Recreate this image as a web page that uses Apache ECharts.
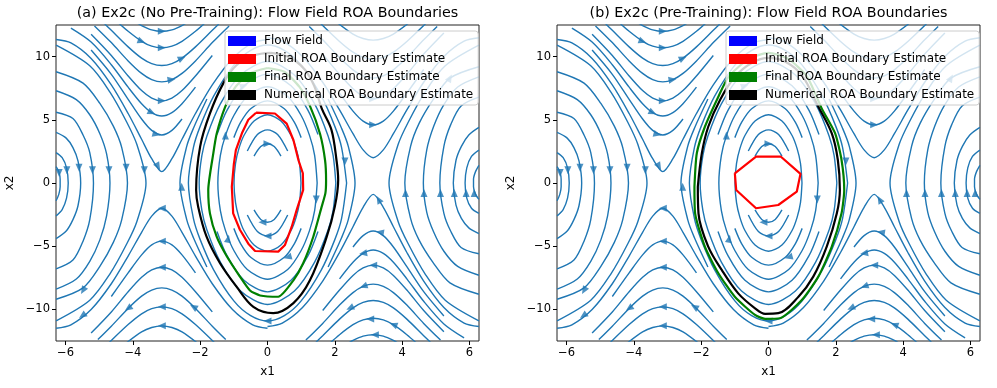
<!DOCTYPE html>
<html>
<head>
<meta charset="utf-8">
<script src="https://cdn.jsdelivr.net/npm/echarts@6/dist/echarts.min.js"></script>
<style>
  html, body { margin: 0; padding: 0; background: #fff; }
  #chart { width: 997px; height: 388px; }
</style>
</head>
<body>
<div id="chart"></div>
<script>
// ---- data ----
const panelTitles = [
  '(a) Ex2c (No Pre-Training): Flow Field ROA Boundaries',
  '(b) Ex2c (Pre-Training): Flow Field ROA Boundaries'
]
const xTicks = [-6, -4, -2, 0, 2, 4, 6]
const yTicks = [-10, -5, 0, 5, 10]
const legendNames = ['Flow Field', 'Initial ROA Boundary Estimate', 'Final ROA Boundary Estimate', 'Numerical ROA Boundary Estimate']
const legendColors = ['#0000ff', '#ff0000', '#008000', '#000000']

// closed orbits around (-2pi, 0), right halves
const libLeft = [
  [[-6.28, 1.3], [-6.2, 0.9], [-6.16, 0.3], [-6.16, -0.3], [-6.2, -0.9], [-6.28, -1.4]],
  [[-6.28, 2.4], [-6.1, 2.0], [-5.97, 1.2], [-5.92, 0], [-5.97, -1.2], [-6.1, -2.1], [-6.28, -2.6]],
  [[-6.28, 4.0], [-5.98, 3.55], [-5.78, 2.8], [-5.63, 1.75], [-5.55, 0], [-5.63, -1.8], [-5.78, -2.9], [-5.98, -3.8], [-6.28, -4.4]],
  [[-6.28, 5.6], [-5.78, 5.1], [-5.48, 3.8], [-5.28, 2.4], [-5.17, 0], [-5.28, -2.9], [-5.48, -4.6], [-5.78, -6.1], [-6.28, -6.8]],
  [[-6.28, 7.3], [-5.68, 6.6], [-5.28, 5.4], [-4.98, 3.9], [-4.78, 2.3], [-4.68, 0], [-4.78, -2.6], [-4.98, -4.5], [-5.28, -6.2], [-5.68, -7.6], [-6.28, -8.4]],
  [[-6.28, 8.8], [-5.48, 7.9], [-4.98, 6.3], [-4.58, 4.5], [-4.33, 2.8], [-4.16, 0], [-4.33, -2.9], [-4.58, -4.7], [-4.98, -6.6], [-5.48, -8.3], [-6.28, -9.2]],
  [[-6.28, 10.9], [-5.28, 9.27], [-4.68, 7.19], [-4.18, 4.81], [-3.88, 3.04], [-3.61, 0], [-3.88, -3.04], [-4.18, -4.81], [-4.68, -7.19], [-5.28, -9.27], [-6.28, -10.9]]
]

// closed orbits around (2pi, 0), left halves
const libRight = [
  [[6.28, -1.3], [6.18, -0.9], [6.12, -0.3], [6.12, 0.3], [6.18, 0.9], [6.28, 1.4]],
  [[6.28, -2.4], [6.06, -2.0], [5.92, -1.2], [5.87, 0], [5.92, 1.2], [6.06, 2.1], [6.28, 2.6]],
  [[6.28, -4.0], [5.98, -3.55], [5.76, -2.8], [5.6, -1.75], [5.52, 0], [5.6, 1.8], [5.76, 2.9], [5.98, 3.8], [6.28, 4.4]],
  [[6.28, -5.6], [5.75, -5.1], [5.44, -3.8], [5.24, -2.4], [5.12, 0], [5.24, 2.9], [5.44, 4.6], [5.75, 6.1], [6.28, 6.8]],
  [[6.28, -7.3], [5.65, -6.6], [5.24, -5.4], [4.94, -3.9], [4.73, -2.3], [4.63, 0], [4.73, 2.6], [4.94, 4.5], [5.24, 6.2], [5.65, 7.6], [6.28, 8.4]],
  [[6.28, -8.8], [5.42, -7.9], [4.92, -6.3], [4.5, -4.5], [4.25, -2.8], [4.08, 0], [4.25, 2.9], [4.5, 4.7], [4.92, 6.6], [5.42, 8.3], [6.28, 9.2]],
  [[6.28, -10.9], [5.28, -9.27], [4.68, -7.19], [4.18, -4.81], [3.88, -3.04], [3.61, 0], [3.88, 3.04], [4.18, 4.81], [4.68, 7.19], [5.28, 9.27], [6.28, 10.9]]
]

// running orbits above the axis, dipping at x1 = -pi
const topLeftV = [
  [[-6.28, 11.35], [-5.84, 11.08], [-5.24, 9.85], [-4.64, 7.76], [-4.14, 5.5], [-3.74, 3.46], [-3.44, 1.92], [-3.14, 0.9], [-2.84, 1.92], [-2.54, 3.46], [-2.14, 5.5], [-1.64, 7.76], [-1.04, 9.85], [-0.44, 11.08], [0, 11.35]],
  [[-5.24, 10.52], [-4.64, 8.6], [-4.14, 6.62], [-3.74, 5.06], [-3.44, 4.16], [-3.14, 3.8], [-2.84, 4.16], [-2.54, 5.06]],
  [[-5.84, 12.25], [-5.24, 11.15], [-4.64, 9.36], [-4.14, 7.58], [-3.74, 6.27], [-3.44, 5.57], [-3.14, 5.3], [-2.84, 5.57], [-2.54, 6.27], [-2.14, 7.58]],
  [[-5.24, 11.77], [-4.64, 10.09], [-4.14, 8.47], [-3.74, 7.31], [-3.44, 6.72], [-3.14, 6.5], [-2.84, 6.72], [-2.54, 7.31], [-2.14, 8.47], [-1.64, 10.09]],
  [[-5.14, 12.43], [-4.64, 11.11], [-4.14, 9.66], [-3.74, 8.67], [-3.44, 8.18], [-3.14, 8.0], [-2.84, 8.18], [-2.54, 8.67], [-2.14, 9.66], [-1.64, 11.11], [-1.14, 12.43]],
  [[-4.84, 12.6], [-4.64, 12.08], [-4.14, 10.77], [-3.74, 9.88], [-3.44, 9.45], [-3.14, 9.3], [-2.84, 9.45], [-2.54, 9.88], [-2.14, 10.77], [-1.64, 12.08], [-1.44, 12.6]],
  [[-4.44, 12.7], [-4.14, 12.0], [-3.74, 11.21], [-3.44, 10.83], [-3.14, 10.7], [-2.84, 10.83], [-2.54, 11.21], [-2.14, 12.0], [-1.84, 12.7]],
  [[-3.94, 12.78], [-3.74, 12.46], [-3.44, 12.12], [-3.14, 12.0], [-2.84, 12.12], [-2.54, 12.46], [-2.34, 12.78]]
]

// running orbits above the axis, dipping at x1 = +pi
const topRightV = [
  [[0, 11.49], [0.44, 11.22], [1.04, 10.01], [1.64, 7.97], [2.14, 5.78], [2.54, 3.9], [2.84, 2.62], [3.14, 2.0], [3.44, 2.62], [3.74, 3.9], [4.14, 5.78], [4.64, 7.97], [5.24, 10.01], [5.84, 11.22], [6.28, 11.49]],
  [[2.14, 7.11], [2.54, 5.69], [2.84, 4.9], [3.14, 4.6], [3.44, 4.9], [3.74, 5.69], [4.14, 7.11], [4.64, 8.98]],
  [[1.64, 10.2], [2.14, 8.6], [2.54, 7.46], [2.84, 6.88], [3.14, 6.67], [3.44, 6.88], [3.74, 7.46], [4.14, 8.6], [4.64, 10.2], [5.24, 11.87]],
  [[1.24, 12.39], [1.64, 11.33], [2.14, 9.92], [2.54, 8.95], [2.84, 8.47], [3.14, 8.3], [3.44, 8.47], [3.74, 8.95], [4.14, 9.92], [4.64, 11.33], [5.04, 12.39]],
  [[1.54, 12.72], [2.14, 11.2], [2.54, 10.35], [2.84, 9.94], [3.14, 9.8], [3.44, 9.94], [3.74, 10.35], [4.14, 11.2], [4.74, 12.72]],
  [[2.04, 12.75], [2.54, 11.78], [2.84, 11.43], [3.14, 11.3], [3.44, 11.43], [3.74, 11.78], [4.24, 12.75]]
]

// running orbits below the axis, rising at x1 = -pi
const bottomLeftA = [
  [[0, -11.49], [-0.44, -11.22], [-1.04, -10.01], [-1.64, -7.97], [-2.14, -5.78], [-2.54, -3.9], [-2.84, -2.62], [-3.14, -2.0], [-3.44, -2.62], [-3.74, -3.9], [-4.14, -5.78], [-4.64, -7.97], [-5.24, -10.01], [-5.84, -11.22], [-6.28, -11.49]],
  [[-2.14, -7.11], [-2.54, -5.69], [-2.84, -4.9], [-3.14, -4.6], [-3.44, -4.9], [-3.74, -5.69], [-4.14, -7.11], [-4.64, -8.98]],
  [[-1.64, -10.2], [-2.14, -8.6], [-2.54, -7.46], [-2.84, -6.88], [-3.14, -6.67], [-3.44, -6.88], [-3.74, -7.46], [-4.14, -8.6], [-4.64, -10.2], [-5.24, -11.87]],
  [[-1.24, -12.39], [-1.64, -11.33], [-2.14, -9.92], [-2.54, -8.95], [-2.84, -8.47], [-3.14, -8.3], [-3.44, -8.47], [-3.74, -8.95], [-4.14, -9.92], [-4.64, -11.33], [-5.04, -12.39]],
  [[-1.54, -12.72], [-2.14, -11.2], [-2.54, -10.35], [-2.84, -9.94], [-3.14, -9.8], [-3.44, -9.94], [-3.74, -10.35], [-4.14, -11.2], [-4.74, -12.72]],
  [[-2.04, -12.75], [-2.54, -11.78], [-2.84, -11.43], [-3.14, -11.3], [-3.44, -11.43], [-3.74, -11.78], [-4.24, -12.75]]
]

// running orbits below the axis, rising at x1 = +pi
const bottomRightA = [
  [[6.28, -11.35], [5.84, -11.08], [5.24, -9.85], [4.64, -7.76], [4.14, -5.5], [3.74, -3.46], [3.44, -1.92], [3.14, -0.9], [2.84, -1.92], [2.54, -3.46], [2.14, -5.5], [1.64, -7.76], [1.04, -9.85], [0.44, -11.08], [0, -11.35]],
  [[5.24, -10.52], [4.64, -8.6], [4.14, -6.62], [3.74, -5.06], [3.44, -4.16], [3.14, -3.8], [2.84, -4.16], [2.54, -5.06]],
  [[5.84, -12.25], [5.24, -11.15], [4.64, -9.36], [4.14, -7.58], [3.74, -6.27], [3.44, -5.57], [3.14, -5.3], [2.84, -5.57], [2.54, -6.27], [2.14, -7.58]],
  [[5.24, -11.77], [4.64, -10.09], [4.14, -8.47], [3.74, -7.31], [3.44, -6.72], [3.14, -6.5], [2.84, -6.72], [2.54, -7.31], [2.14, -8.47], [1.64, -10.09]],
  [[5.14, -12.43], [4.64, -11.11], [4.14, -9.66], [3.74, -8.67], [3.44, -8.18], [3.14, -8.0], [2.84, -8.18], [2.54, -8.67], [2.14, -9.66], [1.64, -11.11], [1.14, -12.43]],
  [[4.84, -12.6], [4.64, -12.08], [4.14, -10.77], [3.74, -9.88], [3.44, -9.45], [3.14, -9.3], [2.84, -9.45], [2.54, -9.88], [2.14, -10.77], [1.64, -12.08], [1.44, -12.6]],
  [[4.44, -12.7], [4.14, -12.0], [3.74, -11.21], [3.44, -10.83], [3.14, -10.7], [2.84, -10.83], [2.54, -11.21], [2.14, -12.0], [1.84, -12.7]],
  [[3.94, -12.78], [3.74, -12.46], [3.44, -12.12], [3.14, -12.0], [2.84, -12.12], [2.54, -12.46], [2.34, -12.78]]
]

// closed orbits around the origin (top/bottom arcs and full loops)
const centerOrbits = [
  [[-0.4, 2.13], [-0.2, 2.88], [0, 3.1], [0.2, 2.88], [0.4, 2.13]],
  [[0.4, -2.13], [0.2, -2.88], [0, -3.1], [-0.2, -2.88], [-0.4, -2.13]],
  [[-0.6, 2.53], [-0.3, 3.84], [0, 4.2], [0.3, 3.84], [0.6, 2.53]],
  [[0.6, -2.53], [0.3, -3.84], [0, -4.2], [-0.3, -3.84], [-0.6, -2.53]],
  [[0.995, 0], [0.95, -1.56], [0.85, -2.72], [0.7, -3.76], [0.4, -4.91], [0, -5.4], [-0.4, -4.91], [-0.7, -3.76], [-0.85, -2.72], [-0.95, -1.56], [-0.995, 0], [-0.95, 1.56], [-0.85, 2.72], [-0.7, 3.76], [-0.4, 4.91], [0, 5.4], [0.4, 4.91], [0.7, 3.76], [0.85, 2.72], [0.95, 1.56], [0.995, 0]],
  [[-1.0, 3.59], [-0.8, 4.79], [-0.5, 5.87], [0, 6.5], [0.5, 5.87], [0.8, 4.79], [1.0, 3.59]],
  [[1.0, -3.59], [0.8, -4.79], [0.5, -5.87], [0, -6.5], [-0.5, -5.87], [-0.8, -4.79], [-1.0, -3.59]],
  [[1.475, 0], [1.4, -2.19], [1.25, -3.75], [1.0, -5.34], [0.6, -6.84], [0, -7.61], [-0.6, -6.84], [-1.0, -5.34], [-1.25, -3.75], [-1.4, -2.19], [-1.475, 0], [-1.4, 2.19], [-1.25, 3.75], [-1.0, 5.34], [-0.6, 6.84], [0, 7.61], [0.6, 6.84], [1.0, 5.34], [1.25, 3.75], [1.4, 2.19], [1.475, 0]],
  [[-1.5, 3.83], [-1.2, 5.77], [-0.7, 7.69], [0, 8.61], [0.7, 7.69], [1.2, 5.77], [1.5, 3.83]],
  [[1.5, -3.83], [1.2, -5.77], [0.7, -7.69], [0, -8.61], [-0.7, -7.69], [-1.2, -5.77], [-1.5, -3.83]],
  [[2.03, 0], [1.95, -2.16], [1.8, -3.72], [1.4, -6.26], [0.8, -8.54], [0, -9.61], [-0.8, -8.54], [-1.4, -6.26], [-1.8, -3.72], [-1.95, -2.16], [-2.03, 0], [-1.95, 2.16], [-1.8, 3.72], [-1.4, 6.26], [-0.8, 8.54], [0, 9.61], [0.8, 8.54], [1.4, 6.26], [1.8, 3.72], [1.95, 2.16], [2.03, 0]],
  [[2.35, 0], [2.2, -2.82], [2.0, -4.48], [1.6, -6.87], [1.0, -9.33], [0.5, -10.5], [0, -10.92], [-0.5, -10.5], [-1.0, -9.33], [-1.6, -6.87], [-2.0, -4.48], [-2.2, -2.82], [-2.35, 0], [-2.2, 2.82], [-2.0, 4.48], [-1.6, 6.87], [-1.0, 9.33], [-0.5, 10.5], [0, 10.92], [0.5, 10.5], [1.0, 9.33], [1.6, 6.87], [2.0, 4.48], [2.2, 2.82], [2.35, 0]],
  [[-1.8, -6.64], [-2.2, -4.33], [-2.4, -2.9], [-2.6, 0], [-2.4, 2.9], [-2.2, 4.33], [-1.8, 6.64]],
  [[1.8, 6.64], [2.2, 4.33], [2.4, 2.9], [2.6, 0], [2.4, -2.9], [2.2, -4.33], [1.8, -6.64]]
]

// arrow heads: x1, x2, heading on screen in degrees (0 = right, 90 = up)
const flowArrows = [
  [-6.19, 0.8, 270], [-5.96, 1.0, 270], [-5.6, 1.2, 270], [-5.2, 1.0, 270], [-4.71, 1.0, 270], [-4.2, 1.2, 270], [-3.66, 1.0, 270],
  [-3.14, 12.0, 0], [-3.14, 10.7, 0], [-2.85, 8.18, 10], [-3.14, 6.5, 0], [-3.44, 5.57, 335], [-3.3, 3.85, 345], [-3.25, 1.3, 300],
  [-3.74, 11.21, 340], [-2.54, 9.88, 25],
  [-3.14, -2.0, 180], [-3.14, -4.6, 180], [-3.14, -6.67, 180], [-4.14, -9.92, 215], [-3.14, -9.8, 180], [-3.14, -11.3, 180],
  [-2.2, -9.8, 150], [-5.48, -8.5, 240], [-5.5, -10.5, 215],
  [6.14, -0.8, 90], [5.9, -0.8, 90], [5.55, -0.8, 90], [5.14, -0.8, 90], [4.65, -0.8, 90], [4.1, -0.8, 90],
  [3.3, -1.3, 120], [3.34, -3.9, 170], [3.14, -6.5, 180], [2.85, -8.18, 200], [2.45, -9.9, 205], [3.05, -10.75, 180],
  [3.74, -11.21, 160], [3.19, -12.0, 180], [2.84, -5.57, 190],
  [3.14, 4.6, 0], [3.14, 6.67, 0], [2.3, 1.7, 270], [5.42, 8.3, 60],
  [0, -10.92, 180], [-0.15, -3.1, 180], [1.45, -1.3, 270], [0, 3.1, 0], [-1.25, 3.75, 90],
  [-2.55, -0.3, 90], [-1.17, -4.4, 80], [0.6, -5.87, 195], [0, -4.2, 180], [-0.7, 7.69, 20]
]

// panel (a) boundaries
const initialRoaA = [[-0.34, 5.56], [0.22, 5.5], [0.57, 4.7], [0.77, 3.4], [0.92, 1.8], [1.05, 0.77], [1.06, -0.55], [0.87, -2.1], [0.72, -3.46], [0.52, -4.9], [0.32, -5.43], [-0.37, -5.38], [-0.57, -4.8], [-0.82, -3.7], [-1.02, -2.4], [-1.06, -0.3], [-1.0, 1.5], [-0.94, 2.6], [-0.75, 4.0], [-0.57, 5.0], [-0.34, 5.56]]
const finalRoaA = [[0.0, 9.1], [0.5, 8.8], [0.95, 7.6], [1.26, 6.1], [1.56, 3.9], [1.71, 1.8], [1.74, 0.2], [1.72, -0.8], [1.61, -1.87], [1.36, -4.25], [1.06, -6.35], [0.77, -7.7], [0.32, -9.0], [-0.22, -8.9], [-0.52, -8.5], [-0.82, -7.4], [-1.21, -5.8], [-1.51, -4.25], [-1.71, -2.4], [-1.76, -0.55], [-1.61, 2.35], [-1.51, 3.9], [-1.26, 6.0], [-0.95, 7.6], [-0.5, 8.7], [0.0, 9.1]]
const numericalRoaA = [[0.1, 10.3], [0.6, 10.0], [1.1, 9.0], [1.4, 7.6], [1.61, 5.9], [1.9, 4.2], [2.05, 1.8], [2.1, 0.24], [2.0, -1.87], [1.76, -4.25], [1.26, -7.7], [0.77, -9.5], [0.17, -10.3], [-0.42, -9.8], [-0.92, -8.2], [-1.41, -6.35], [-1.81, -4.25], [-2.06, -1.87], [-2.12, -0.55], [-2.0, 2.9], [-1.71, 5.5], [-1.31, 7.9], [-0.93, 9.3], [-0.4, 10.1], [0.1, 10.3]]

// panel (b) boundaries
const initialRoaB = [[-1.0, 0.77], [-0.37, 2.08], [0.37, 2.08], [0.95, 0.72], [0.84, -0.69], [0.29, -1.74], [-0.37, -2.0], [-0.96, -0.55], [-1.0, 0.77]]
const finalRoaB = [[-2.2, -0.3], [-2.13, 2.35], [-1.89, 4.45], [-1.49, 6.83], [-1.19, 8.4], [-0.6, 9.8], [0, 10.3], [0.6, 9.8], [1.15, 8.4], [1.58, 5.9], [1.98, 3.93], [2.17, 1.82], [2.25, -0.55], [2.17, -2.4], [1.88, -5.04], [1.48, -7.41], [0.99, -9.26], [0.34, -10.7], [-0.1, -10.75], [-0.4, -10.44], [-1.0, -9.0], [-1.49, -7.14], [-1.89, -5.04], [-2.18, -2.4], [-2.2, -0.3]]
const numericalRoaB = [[-2.1, -0.3], [-1.98, 2.35], [-1.79, 4.45], [-1.44, 6.57], [-1.0, 8.4], [-0.5, 9.5], [0, 9.9], [0.5, 9.6], [1.0, 8.5], [1.48, 6.04], [1.88, 3.93], [2.06, 1.82], [2.12, -0.55], [2.03, -2.4], [1.73, -5.04], [1.33, -7.41], [0.89, -9.0], [0.29, -10.3], [-0.1, -10.35], [-0.4, -9.91], [-0.9, -8.73], [-1.39, -6.88], [-1.79, -5.04], [-2.08, -2.4], [-2.1, -0.3]]

// ---- chart ----
const FONT = 'DejaVu Sans'
const flowColor = '#1f77b4'
const X_LIM = 2 * Math.PI
const grids = [
  { left: 56, top: 25, width: 423, height: 316 },
  { left: 557, top: 25, width: 423, height: 316 }
]
const flowLines = [...libLeft, ...libRight, ...topLeftV, ...topRightV, ...bottomLeftA, ...bottomRightA, ...centerOrbits]
const minus = v => String(v).replace('-', '\u2212')

function panelSeries(k, initial, final, numerical) {
  const list = []
  flowLines.forEach(pts => {
    list.push({
      type: 'line', name: legendNames[0], xAxisIndex: k, yAxisIndex: k,
      data: pts, smooth: 0.3, showSymbol: false, silent: true, z: 2,
      lineStyle: { color: flowColor, width: 1.4 }, itemStyle: { color: flowColor }
    })
  })
  list.push({
    type: 'scatter', name: legendNames[0], xAxisIndex: k, yAxisIndex: k, silent: true, z: 3,
    symbol: 'triangle', symbolSize: [7, 8],
    itemStyle: { color: flowColor },
    data: flowArrows.map(a => ({ value: [a[0], a[1]], symbolRotate: a[2] - 90 }))
  })
  const roa = [[initial, 1, false], [final, 2, 0.2], [numerical, 3, 0.35]]
  roa.forEach(([pts, i, sm]) => {
    list.push({
      type: 'line', name: legendNames[i], xAxisIndex: k, yAxisIndex: k,
      data: pts, smooth: sm, showSymbol: false, silent: true, z: 4 + i,
      lineStyle: { color: legendColors[i], width: 2.2 }, itemStyle: { color: legendColors[i] }
    })
  })
  return list
}

function legendFor(k) {
  return {
    orient: 'vertical', left: k === 0 ? 225 : 726, top: 31,
    itemWidth: 28, itemHeight: 10, itemGap: 4,
    padding: [3, 5, 3, 3],
    backgroundColor: 'rgba(255,255,255,0.8)', borderColor: '#cccccc', borderWidth: 1, borderRadius: 3,
    textStyle: { fontFamily: FONT, fontSize: 12, color: '#000', lineHeight: 14, padding: [0, 0, 0, 3] },
    selectedMode: false,
    data: legendNames.map((n, i) => ({ name: n, icon: 'rect', itemStyle: { color: legendColors[i], borderWidth: 0 } })),
    z: 20
  }
}

function axisPair(k) {
  const tickFont = { fontFamily: FONT, fontSize: 11.5, color: '#000', margin: 6 }
  const x = {
    type: 'value', gridIndex: k, min: -X_LIM, max: X_LIM,
    name: 'x1', nameLocation: 'middle', nameGap: 25,
    nameTextStyle: { fontFamily: FONT, fontSize: 12, color: '#000' },
    axisLine: { show: false, onZero: false },
    axisTick: { show: true, customValues: xTicks, length: 4, lineStyle: { color: '#000', width: 1 } },
    axisLabel: Object.assign({ customValues: xTicks, formatter: minus }, tickFont),
    splitLine: { show: false }
  }
  const y = {
    type: 'value', gridIndex: k, min: -12.5, max: 12.5,
    name: 'x2', nameLocation: 'middle', nameGap: 40, nameRotate: 90,
    nameTextStyle: { fontFamily: FONT, fontSize: 12, color: '#000' },
    axisLine: { show: false, onZero: false },
    axisTick: { show: true, customValues: yTicks, length: 4, lineStyle: { color: '#000', width: 1 } },
    axisLabel: Object.assign({ customValues: yTicks, formatter: minus }, tickFont),
    splitLine: { show: false }
  }
  return [x, y]
}

const chart = echarts.init(document.getElementById('chart'), null, { renderer: 'canvas' })
const axes = [axisPair(0), axisPair(1)]
chart.setOption({
  animation: false,
  backgroundColor: '#ffffff',
  grid: grids.map(g => Object.assign({ show: true, borderColor: '#222', borderWidth: 1, backgroundColor: 'transparent' }, g)),
  xAxis: axes.map(a => a[0]),
  yAxis: axes.map(a => a[1]),
  legend: [legendFor(0), legendFor(1)],
  graphic: panelTitles.map((t, k) => ({
    type: 'text', x: grids[k].left + grids[k].width / 2, y: 13,
    style: { text: t, fill: '#000', font: '14.3px "DejaVu Sans"', align: 'center', verticalAlign: 'middle' }
  })),
  series: [
    ...panelSeries(0, initialRoaA, finalRoaA, numericalRoaA),
    ...panelSeries(1, initialRoaB, finalRoaB, numericalRoaB)
  ]
})
</script>
</body>
</html>
